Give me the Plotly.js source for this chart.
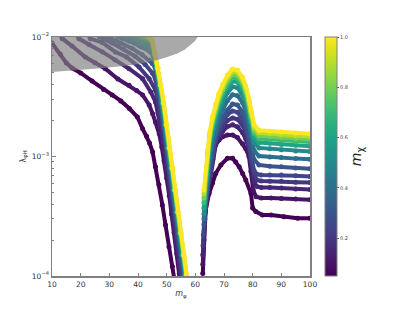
<!DOCTYPE html>
<html><head><meta charset="utf-8">
<script src="https://cdn.plot.ly/plotly-3.0.1.min.js"></script>
<style>html,body{margin:0;padding:0;background:#fff}</style>
</head><body><div id="chart" style="width:415px;height:311px"></div>
<script>
// m_chi value of each curve
const mChi = [0.05, 0.1, 0.15, 0.2, 0.25, 0.3, 0.4, 0.5, 0.6, 0.7, 0.8, 0.9, 1.0];

// Left branch (below the first resonance), m_phi values per curve
const leftX = [
  [10, 12.9, 15, 17, 20, 24, 28, 31, 34, 37, 39.8, 41.6, 43.0, 44.0, 45.1, 46.1, 47.3, 48.5, 49.6, 50.8, 52.0, 52.8],
  [12.8, 13.6, 17, 21.6, 25, 28.6, 33, 36.9, 39.5, 41.6, 43.9, 45.1, 46.1, 47.4, 48.3, 49.1, 50.0, 50.9, 51.7, 52.6, 53.5, 54.4, 54.8],
  [18.5, 19.4, 23, 27.6, 32, 36.9, 41.6, 44.5, 46.1, 47, 48, 49, 50, 51, 52, 53, 54, 55, 55.3],
  [22.5, 23.4, 27.5, 32.1, 36, 40.4, 43.9, 46.1, 47, 48, 49, 50, 51, 52, 53, 54, 55, 55.6],
  [25.8, 26.7, 31, 35, 39, 42.5, 45, 46, 47, 48, 49, 50, 51, 52, 53, 54, 55, 56],
  [28.6, 29.5, 34, 38, 41.5, 44, 45, 46, 47, 48, 49, 50, 51, 52, 53, 54, 55, 56, 56.6],
  [32, 33, 37, 41, 44, 45.25, 46.25, 47.25, 48.25, 49.25, 50.25, 51.25, 52.25, 53.25, 54.25, 55.25, 56.25, 56.85],
  [35, 36, 40, 43, 44.45, 45.45, 46.45, 47.45, 48.45, 49.45, 50.45, 51.45, 52.45, 53.45, 54.45, 55.45, 56.45, 57.05],
  [37.5, 38.5, 42, 44.6, 45.6, 46.6, 47.6, 48.6, 49.6, 50.6, 51.6, 52.6, 53.6, 54.6, 55.6, 56.6, 57.2],
  [39.5, 40.5, 43, 44.72, 45.72, 46.72, 47.72, 48.72, 49.72, 50.72, 51.72, 52.72, 53.72, 54.72, 55.72, 56.72, 57.32],
  [41, 42, 44, 44.82, 45.82, 46.82, 47.82, 48.82, 49.82, 50.82, 51.82, 52.82, 53.82, 54.82, 55.82, 56.82, 57.42],
  [42.5, 43.3, 44.92, 45.92, 46.92, 47.92, 48.92, 49.92, 50.92, 51.92, 52.92, 53.92, 54.92, 55.92, 56.92, 57.52],
  [43.5, 44.3, 45, 46, 47, 48, 49, 50, 51, 52, 53, 54, 55, 56, 57, 57.6]
];
// Left branch lambda_phiH values per curve
const leftL = [
  [8.9e-3, 7.2e-3, 6.06e-3, 5.5e-3, 5.0e-3, 4.28e-3, 3.64e-3, 3.27e-3, 2.92e-3, 2.52e-3, 2.14e-3, 1.71e-3, 1.48e-3, 1.30e-3, 1.09e-3, 8.2e-4, 5.8e-4, 3.93e-4, 2.67e-4, 1.76e-4, 1.2e-4, 9e-5],
  [1.05e-2, 9.68e-3, 8.4e-3, 6.8e-3, 6.1e-3, 5.43e-3, 4.45e-3, 3.94e-3, 3.56e-3, 3.27e-3, 2.70e-3, 2.28e-3, 1.94e-3, 1.55e-3, 1.2e-3, 9.2e-4, 6.6e-4, 4.7e-4, 3.3e-4, 2.3e-4, 1.55e-4, 1.05e-4, 8.5e-5],
  [1.05e-2, 9.68e-3, 8.6e-3, 7.5e-3, 6.43e-3, 5.43e-3, 4.48e-3, 3.46e-3, 2.86e-3, 2.3e-3, 1.7e-3, 1.2e-3, 8.2e-4, 5.5e-4, 3.6e-4, 2.35e-4, 1.5e-4, 9.8e-5, 8.5e-5],
  [1.05e-2, 9.68e-3, 9.0e-3, 7.5e-3, 6.8e-3, 5.6e-3, 4.48e-3, 3.6e-3, 2.9e-3, 2.2e-3, 1.55e-3, 1.05e-3, 6.8e-4, 4.4e-4, 2.85e-4, 1.85e-4, 1.2e-4, 9e-5],
  [1.05e-2, 1.0e-2, 8.9e-3, 7.9e-3, 6.9e-3, 5.9e-3, 5.0e-3, 4.5e-3, 3.4e-3, 2.5e-3, 1.7e-3, 1.1e-3, 7.4e-4, 4.8e-4, 3.1e-4, 2.05e-4, 1.35e-4, 9e-5],
  [1.05e-2, 1.0e-2, 8.9e-3, 8.0e-3, 7.1e-3, 6.4e-3, 6.0e-3, 5.5e-3, 3.96e-3, 2.81e-3, 1.84e-3, 1.18e-3, 8.0e-4, 5.25e-4, 3.44e-4, 2.29e-4, 1.5e-4, 1.02e-4, 8e-5],
  [1.05e-2, 1.0e-2, 9.2e-3, 8.3e-3, 7.6e-3, 7.0e-3, 5.5e-3, 3.96e-3, 2.81e-3, 1.84e-3, 1.18e-3, 8.0e-4, 5.25e-4, 3.44e-4, 2.29e-4, 1.5e-4, 1.02e-4, 8e-5],
  [1.05e-2, 1.0e-2, 9.2e-3, 8.5e-3, 8.0e-3, 7.2e-3, 5.5e-3, 3.96e-3, 2.81e-3, 1.84e-3, 1.18e-3, 8.0e-4, 5.25e-4, 3.44e-4, 2.29e-4, 1.5e-4, 1.02e-4, 8e-5],
  [1.05e-2, 1.0e-2, 9.3e-3, 8.7e-3, 7.2e-3, 5.5e-3, 3.96e-3, 2.81e-3, 1.84e-3, 1.18e-3, 8.0e-4, 5.25e-4, 3.44e-4, 2.29e-4, 1.5e-4, 1.02e-4, 8e-5],
  [1.05e-2, 1.0e-2, 9.6e-3, 9.3e-3, 7.2e-3, 5.5e-3, 3.96e-3, 2.81e-3, 1.84e-3, 1.18e-3, 8.0e-4, 5.25e-4, 3.44e-4, 2.29e-4, 1.5e-4, 1.02e-4, 8e-5],
  [1.05e-2, 1.0e-2, 9.7e-3, 9.3e-3, 7.2e-3, 5.5e-3, 3.96e-3, 2.81e-3, 1.84e-3, 1.18e-3, 8.0e-4, 5.25e-4, 3.44e-4, 2.29e-4, 1.5e-4, 1.02e-4, 8e-5],
  [1.05e-2, 1.0e-2, 9.3e-3, 7.2e-3, 5.5e-3, 3.96e-3, 2.81e-3, 1.84e-3, 1.18e-3, 8.0e-4, 5.25e-4, 3.44e-4, 2.29e-4, 1.5e-4, 1.02e-4, 8e-5],
  [1.05e-2, 1.0e-2, 9.3e-3, 7.2e-3, 5.5e-3, 3.96e-3, 2.81e-3, 1.84e-3, 1.18e-3, 8.0e-4, 5.25e-4, 3.44e-4, 2.29e-4, 1.5e-4, 1.02e-4, 8e-5]
];

// Right branch (above the Higgs resonance) m_phi values
const xHump = [63.0, 64.2, 65.0, 66.0, 67.1, 68.2, 69.5, 71.2, 73.0, 74.7, 76.5, 77.6, 78.8, 79.4, 80.5, 82.2, 86, 90, 95, 100];
const rightX = [
  [62.6, 63.0, 63.6, 64.8, 66.0, 67.1, 68.9, 71.2, 73.0, 74.1, 75.3, 76.5, 77.6, 79.4, 80.0, 81.1, 83.4, 86.4, 90.9, 95.7, 100],
  [62.6, 63.3, 64.2, 65.2, 66.1, 67.1, 68.3, 69.5, 71.2, 73.0, 74.7, 76.5, 77.6, 78.7, 79.4, 80.2, 81.2, 83, 86.4, 90, 95, 100],
  [62.6, 63.4, 64.2, 65.2, 66.1, 67.1, 68.3, 69.5, 71.2, 73.0, 74.7, 76.5, 77.6, 78.8, 79.6, 80.5, 81.5, 83, 86, 90, 95, 100],
  [62.7, 63.4, 64.2, 65.2, 66.1, 67.1, 68.3, 69.5, 71.2, 73.0, 74.7, 76.5, 77.6, 78.8, 79.6, 80.5, 81.5, 83, 86, 90, 95, 100],
  [62.8, 63.5, 64.2, 65.2, 66.1, 67.1, 68.3, 69.5, 71.2, 73.0, 74.7, 76.5, 77.6, 78.8, 79.6, 80.5, 81.5, 83, 86, 90, 95, 100],
  xHump, xHump, xHump, xHump, xHump, xHump, xHump, xHump
];
const rightL = [
  [1.05e-4, 2.0e-4, 3.57e-4, 4.9e-4, 6.0e-4, 7.2e-4, 8.5e-4, 9.65e-4, 9.65e-4, 9.0e-4, 8.2e-4, 7.2e-4, 6.36e-4, 4.9e-4, 3.7e-4, 3.46e-4, 3.24e-4, 3.24e-4, 3.13e-4, 3.04e-4, 3.05e-4],
  [1.25e-4, 3.0e-4, 4.6e-4, 6.6e-4, 9.5e-4, 1.25e-3, 1.38e-3, 1.46e-3, 1.51e-3, 1.51e-3, 1.44e-3, 1.28e-3, 1.16e-3, 1.0e-3, 7.5e-4, 5.2e-4, 4.6e-4, 4.5e-4, 4.5e-4, 4.45e-4, 4.4e-4, 4.35e-4],
  [1.5e-4, 3.4e-4, 5.0e-4, 7.2e-4, 1.03e-3, 1.33e-3, 1.45e-3, 1.62e-3, 1.78e-3, 1.84e-3, 1.77e-3, 1.58e-3, 1.4e-3, 1.12e-3, 8.3e-4, 6.1e-4, 5.6e-4, 5.5e-4, 5.5e-4, 5.45e-4, 5.35e-4, 5.3e-4],
  [1.8e-4, 3.8e-4, 5.2e-4, 7.6e-4, 1.08e-3, 1.4e-3, 1.55e-3, 1.78e-3, 2.0e-3, 2.1e-3, 2.05e-3, 1.82e-3, 1.6e-3, 1.25e-3, 9.2e-4, 6.9e-4, 6.35e-4, 6.25e-4, 6.2e-4, 6.2e-4, 6.1e-4, 6.05e-4],
  [2.2e-4, 4.2e-4, 5.3e-4, 7.8e-4, 1.1e-3, 1.45e-3, 1.7e-3, 1.95e-3, 2.25e-3, 2.4e-3, 2.35e-3, 2.05e-3, 1.75e-3, 1.3e-3, 9.8e-4, 7.6e-4, 7.1e-4, 7.0e-4, 7.0e-4, 7.0e-4, 6.9e-4, 6.8e-4],
  [2.7e-4, 5.4e-4, 8.2e-4, 1.12e-3, 1.5e-3, 1.8e-3, 2.1e-3, 2.45e-3, 2.75e-3, 2.7e-3, 2.35e-3, 1.99e-3, 1.51e-3, 1.25e-3, 9.4e-4, 8.5e-4, 8.3e-4, 8.2e-4, 8.0e-4, 7.9e-4],
  [3.0e-4, 6.2e-4, 9.8e-4, 1.31e-3, 1.68e-3, 2.04e-3, 2.44e-3, 2.93e-3, 3.29e-3, 3.23e-3, 2.81e-3, 2.38e-3, 1.81e-3, 1.49e-3, 1.12e-3, 1.01e-3, 9.9e-4, 9.8e-4, 9.6e-4, 9.5e-4],
  [3.3e-4, 7.2e-4, 1.14e-3, 1.53e-3, 1.95e-3, 2.38e-3, 2.84e-3, 3.41e-3, 3.83e-3, 3.76e-3, 3.27e-3, 2.77e-3, 2.11e-3, 1.74e-3, 1.31e-3, 1.18e-3, 1.16e-3, 1.14e-3, 1.11e-3, 1.1e-3],
  [3.7e-4, 8.2e-4, 1.26e-3, 1.7e-3, 2.17e-3, 2.65e-3, 3.16e-3, 3.79e-3, 4.27e-3, 4.19e-3, 3.63e-3, 3.08e-3, 2.35e-3, 1.94e-3, 1.45e-3, 1.31e-3, 1.29e-3, 1.26e-3, 1.24e-3, 1.22e-3],
  [4.1e-4, 9.0e-4, 1.36e-3, 1.83e-3, 2.34e-3, 2.85e-3, 3.4e-3, 4.08e-3, 4.59e-3, 4.5e-3, 3.91e-3, 3.32e-3, 2.52e-3, 2.08e-3, 1.56e-3, 1.41e-3, 1.39e-3, 1.36e-3, 1.33e-3, 1.32e-3],
  [4.5e-4, 9.8e-4, 1.44e-3, 1.94e-3, 2.48e-3, 3.02e-3, 3.6e-3, 4.32e-3, 4.86e-3, 4.77e-3, 4.14e-3, 3.51e-3, 2.67e-3, 2.2e-3, 1.66e-3, 1.49e-3, 1.47e-3, 1.44e-3, 1.41e-3, 1.4e-3],
  [4.9e-4, 1.06e-3, 1.52e-3, 2.04e-3, 2.61e-3, 3.18e-3, 3.8e-3, 4.56e-3, 5.13e-3, 5.04e-3, 4.37e-3, 3.7e-3, 2.82e-3, 2.33e-3, 1.75e-3, 1.58e-3, 1.55e-3, 1.52e-3, 1.49e-3, 1.47e-3],
  [5.25e-4, 1.13e-3, 1.6e-3, 2.15e-3, 2.75e-3, 3.35e-3, 4.0e-3, 4.8e-3, 5.4e-3, 5.3e-3, 4.6e-3, 3.9e-3, 2.97e-3, 2.45e-3, 1.84e-3, 1.66e-3, 1.63e-3, 1.6e-3, 1.57e-3, 1.55e-3]
];

// Excluded (grey) region boundary
const exclX = [10, 18, 27, 38.4, 43, 46.8, 50.5, 53.9, 56.5, 58.4, 59.8, 60.8, 10];
const exclL = [5.1e-3, 5.25e-3, 5.47e-3, 5.83e-3, 6.1e-3, 6.42e-3, 6.85e-3, 7.3e-3, 7.9e-3, 8.57e-3, 9.2e-3, 1.0e-2, 1.0e-2];

const xTicks = [10, 20, 30, 40, 50, 60, 70, 80, 90, 100];
const yTicks = [1e-4, 1e-3, 1e-2];
const yTickText = ['10<sup>−4</sup>', '10<sup>−3</sup>', '10<sup>−2</sup>'];
const cbTicks = [0.2, 0.4, 0.6, 0.8, 1.0];
const cbTickText = ['0.2', '0.4', '0.6', '0.8', '1.0'];

const CMIN = 0.05, CMAX = 1.0;
const viridis = [[0,'#440154'],[0.0627,'#48186a'],[0.1255,'#472d7b'],[0.1882,'#424086'],[0.2510,'#3b528b'],[0.3137,'#33638d'],[0.3765,'#2c728e'],[0.4392,'#26828e'],[0.5020,'#21918c'],[0.5647,'#1fa088'],[0.6275,'#28ae80'],[0.6902,'#3fbc73'],[0.7529,'#5ec962'],[0.8157,'#84d44b'],[0.8784,'#addc30'],[0.9412,'#d8e219'],[1,'#fde725']];
function hex2rgb(h){return [parseInt(h.slice(1,3),16),parseInt(h.slice(3,5),16),parseInt(h.slice(5,7),16)];}
function colorAt(m){
  const t = Math.max(0, Math.min(1, (m - CMIN) / (CMAX - CMIN)));
  for (let i = 1; i < viridis.length; i++) {
    if (t <= viridis[i][0]) {
      const a = viridis[i-1], b = viridis[i];
      const f = (t - a[0]) / (b[0] - a[0]);
      const ca = hex2rgb(a[1]), cb = hex2rgb(b[1]);
      return 'rgb(' + ca.map((v,k)=>Math.round(v + f*(cb[k]-v))).join(',') + ')';
    }
  }
  return viridis[viridis.length-1][1];
}

const traces = [];
mChi.forEach((m, i) => {
  const xs = leftX[i].concat([null], rightX[i]);
  const ys = leftL[i].concat([null], rightL[i]);
  traces.push({
    type: 'scatter', mode: 'lines+markers',
    x: xs, y: ys, connectgaps: false,
    line: {color: colorAt(m), width: 4},
    marker: {
      size: 5, color: xs.map(() => m), colorscale: 'Viridis', cmin: CMIN, cmax: CMAX,
      showscale: i === mChi.length - 1,
      colorbar: {
        x: 1.058, xanchor: 'left', y: 0.5, yanchor: 'middle', len: 1, lenmode: 'fraction',
        thickness: 12, xpad: 0, ypad: 0, outlinecolor: '#808080', outlinewidth: 1,
        tickvals: cbTicks, ticktext: cbTickText, ticks: 'outside', ticklen: 2, tickcolor: '#555',
        tickfont: {size: 5, color: '#444', family: 'DejaVu Sans'},
        title: {text: '<i>m</i><sub>χ</sub>', side: 'right', font: {size: 14, color: '#222', family: 'DejaVu Sans'}}
      }
    },
    hoverinfo: 'skip'
  });
});
traces.push({
  type: 'scatter', mode: 'lines', x: exclX, y: exclL, fill: 'toself',
  fillcolor: 'rgba(128,128,128,0.68)', line: {width: 0}, hoverinfo: 'skip'
});

const axisCommon = {
  showline: true, mirror: true, linecolor: '#808080', linewidth: 1.5,
  showgrid: false, zeroline: false, ticks: 'inside', tickcolor: '#808080',
  tickfont: {size: 7.5, color: '#333', family: 'DejaVu Sans'}
};
const layout = {
  width: 415, height: 311,
  margin: {l: 52, r: 105, t: 37, b: 35},
  paper_bgcolor: '#fff', plot_bgcolor: '#fff',
  showlegend: false, hovermode: false,
  font: {family: 'DejaVu Sans', color: '#333'},
  xaxis: Object.assign({}, axisCommon, {
    range: [10, 100], tickvals: xTicks, ticklen: 3,
    title: {text: '<i>m</i><sub>φ</sub>', font: {size: 8, color: '#333'}, standoff: 3}
  }),
  yaxis: Object.assign({}, axisCommon, {
    type: 'log', range: [-4, -2], tickvals: yTicks, ticktext: yTickText, ticklen: 4,
    minor: {ticks: 'inside', ticklen: 2, tickcolor: '#808080', dtick: 'D1', showgrid: false},
    title: {text: 'λ<sub>φH</sub>', font: {size: 8, color: '#333'}, standoff: 4}
  })
};
Plotly.newPlot('chart', traces, layout, {staticPlot: true, displayModeBar: false});
</script></body></html>
